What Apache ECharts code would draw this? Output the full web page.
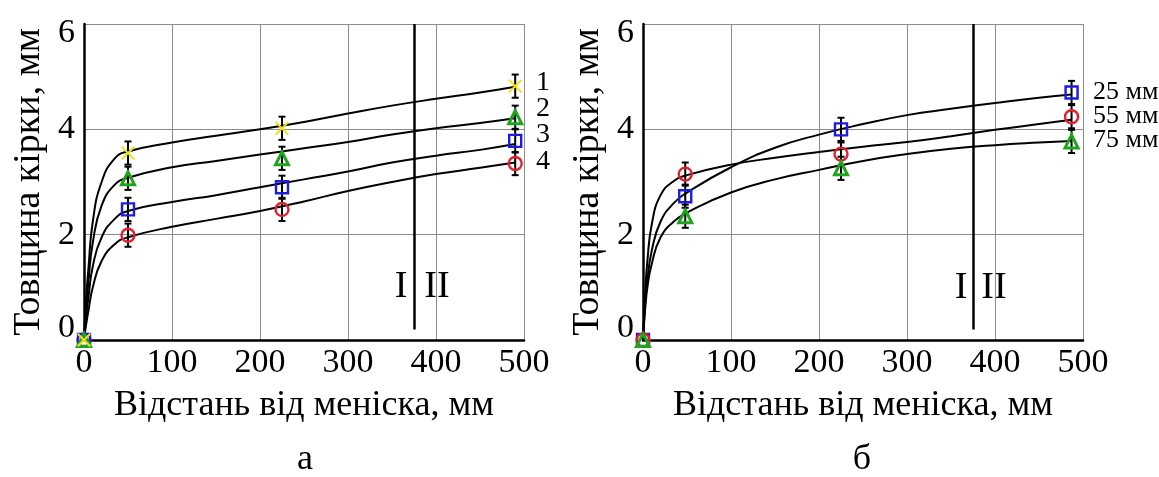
<!DOCTYPE html>
<html>
<head>
<meta charset="utf-8">
<script src="https://cdn.jsdelivr.net/npm/echarts@6/dist/echarts.min.js"></script>
<style>
  html, body { margin: 0; padding: 0; background: #fff; }
  #chart { width: 1159px; height: 477px; }
</style>
</head>
<body>
<div id="chart"></div>
<script>
// ticks
const xTicks = [0, 100, 200, 300, 400, 500];
const yTicks = [0, 2, 4, 6];

// panel а: measured points (x, thickness) for curves 1..4
const xMarkA = [0, 50, 225, 490];
const thick1 = [0, 3.55, 4.02, 4.82];
const thick2 = [0, 3.07, 3.45, 4.23];
const thick3 = [0, 2.48, 2.90, 3.78];
const thick4 = [0, 1.99, 2.48, 3.35];
// fitted curves
const xFitA = [0, 2.5, 5, 10, 20, 35, 50, 100, 150, 200, 250, 300, 350, 400, 450, 490];
const fit1 = [0, 0.8, 1.35, 2.25, 3.0, 3.45, 3.58, 3.75, 3.88, 4.0, 4.14, 4.3, 4.45, 4.58, 4.7, 4.81];
const fit2 = [0, 0.6, 1.1, 1.85, 2.55, 2.95, 3.08, 3.28, 3.4, 3.52, 3.64, 3.76, 3.9, 4.02, 4.12, 4.21];
const fit3 = [0, 0.45, 0.8, 1.4, 1.95, 2.3, 2.45, 2.62, 2.75, 2.9, 3.05, 3.2, 3.37, 3.5, 3.61, 3.72];
const fit4 = [0, 0.3, 0.55, 1.0, 1.5, 1.82, 1.95, 2.15, 2.3, 2.45, 2.63, 2.83, 3.0, 3.15, 3.27, 3.37];

// panel б: 25 / 55 / 75 мм
const xMarkB = [0, 48, 225, 487];
const thick25 = [0, 2.73, 4.0, 4.70];
const thick55 = [0, 3.15, 3.53, 4.24];
const thick75 = [0, 2.35, 3.26, 3.77];
const xFitB = [0, 2.5, 5, 10, 20, 35, 50, 100, 150, 200, 250, 300, 350, 400, 450, 487];
const fit25 = [0, 0.7, 1.15, 1.7, 2.25, 2.6, 2.8, 3.28, 3.65, 3.9, 4.1, 4.27, 4.39, 4.5, 4.6, 4.66];
const fit55 = [0, 0.9, 1.5, 2.2, 2.75, 3.02, 3.13, 3.33, 3.46, 3.57, 3.67, 3.76, 3.87, 3.99, 4.1, 4.18];
const fit75 = [0, 0.6, 1.0, 1.45, 1.95, 2.25, 2.42, 2.8, 3.05, 3.23, 3.4, 3.53, 3.63, 3.7, 3.75, 3.78];

const errHalf = 0.22;
const zoneX = 375;      // I | II boundary
const zoneBottom = 0.2;

const FONT = "'Liberation Serif', 'DejaVu Serif', serif";
const crossPath = 'path://M0,1L1,0L5,4L9,0L10,1L6,5L10,9L9,10L5,6L1,10L0,9L4,5Z';

const chart = echarts.init(document.getElementById('chart'));

function pairs(xs, ys) { return xs.map((x, i) => [x, ys[i]]); }

function xAxisFor(i) {
  return {
    gridIndex: i, type: 'value', min: xTicks[0], max: xTicks[xTicks.length - 1], interval: xTicks[1] - xTicks[0],
    axisLine: { show: true, onZero: false, lineStyle: { color: '#000', width: 2.5 } },
    axisTick: { show: false },
    splitLine: { show: true, lineStyle: { color: '#8c8c8c', width: 1 } },
    axisLabel: { color: '#000', fontSize: 34, fontFamily: FONT, margin: 6 },
    name: 'Відстань від меніска, мм', nameLocation: 'middle', nameGap: 48,
    nameTextStyle: { color: '#000', fontSize: 36, fontFamily: FONT }
  };
}

function yAxisFor(i) {
  const lab = { color: '#000', fontSize: 34, fontFamily: FONT };
  return {
    gridIndex: i, type: 'value', min: yTicks[0], max: yTicks[yTicks.length - 1], interval: yTicks[1] - yTicks[0],
    axisLine: { show: true, onZero: false, lineStyle: { color: '#000', width: 2.5 } },
    axisTick: { show: false },
    splitLine: { show: true, lineStyle: { color: '#8c8c8c', width: 1 } },
    axisLabel: {
      margin: 9,
      formatter: v => v === 6 ? '{t|6}' : v === 0 ? '{b|0}' : '{n|' + v + '}',
      rich: {
        t: Object.assign({ padding: [18, 0, 0, 0] }, lab),
        b: Object.assign({ padding: [0, 0, 24, 0] }, lab),
        n: lab
      }
    },
    name: 'Товщина кірки, мм', nameLocation: 'middle', nameGap: 36,
    nameTextStyle: { color: '#000', fontSize: 38, fontFamily: FONT }
  };
}

function curve(i, xs, ys, withZone) {
  const s = {
    type: 'line', xAxisIndex: i, yAxisIndex: i, data: pairs(xs, ys),
    showSymbol: false, smooth: 0.5, clip: false, silent: true,
    lineStyle: { color: '#000', width: 2 }, z: 3
  };
  if (withZone) {
    s.markLine = {
      symbol: 'none', silent: true, label: { show: false },
      lineStyle: { color: '#000', width: 2.5, type: 'solid' },
      data: [[{ coord: [zoneX, zoneBottom] }, { coord: [zoneX, yTicks[yTicks.length - 1]] }]]
    };
  }
  return s;
}

function errBars(i, xs, ys) {
  const data = [];
  xs.forEach((x, k) => { if (x > 0) data.push([x, ys[k] - errHalf, ys[k] + errHalf]); });
  return {
    type: 'custom', xAxisIndex: i, yAxisIndex: i, data: data, silent: true, z: 4,
    renderItem: (params, api) => {
      const top = api.coord([api.value(0), api.value(2)]);
      const bot = api.coord([api.value(0), api.value(1)]);
      const st = { stroke: '#000', lineWidth: 2 };
      const w = 3.5;
      return {
        type: 'group', children: [
          { type: 'line', shape: { x1: top[0], y1: top[1], x2: bot[0], y2: bot[1] }, style: st },
          { type: 'line', shape: { x1: top[0] - w, y1: top[1], x2: top[0] + w, y2: top[1] }, style: st },
          { type: 'line', shape: { x1: bot[0] - w, y1: bot[1], x2: bot[0] + w, y2: bot[1] }, style: st }
        ]
      };
    }
  };
}

function marks(i, xs, ys, symbol, color, size, filled, bw) {
  return {
    type: 'scatter', xAxisIndex: i, yAxisIndex: i, data: pairs(xs, ys), clip: false, silent: true,
    symbol: symbol, symbolSize: size, z: 5,
    itemStyle: filled
      ? { color: color, opacity: 1 }
      : { color: 'rgba(0,0,0,0)', borderColor: color, borderWidth: bw || 2.4, opacity: 1 }
  };
}

function txt(x, y, text, size, align) {
  return {
    type: 'text', x: x, y: y, silent: true,
    style: { text: text, fill: '#000', fontSize: size, fontFamily: FONT, align: align || 'center', verticalAlign: 'middle' }
  };
}

const YELLOW = '#f0e21a', GREEN = '#1ea51e', BLUE = '#1c1ce0', RED = '#e0202c';

chart.setOption({
  backgroundColor: '#fff',
  animation: false,
  grid: [
    { left: 84, top: 24, width: 440, height: 316 },
    { left: 643, top: 24, width: 440, height: 316 }
  ],
  xAxis: [xAxisFor(0), xAxisFor(1)],
  yAxis: [yAxisFor(0), yAxisFor(1)],
  series: [
    curve(0, xFitA, fit1, true), curve(0, xFitA, fit2), curve(0, xFitA, fit3), curve(0, xFitA, fit4),
    errBars(0, xMarkA, thick1), errBars(0, xMarkA, thick2), errBars(0, xMarkA, thick3), errBars(0, xMarkA, thick4),
    marks(0, xMarkA, thick4, 'circle', RED, 13),
    marks(0, xMarkA, thick3, 'rect', BLUE, 12),
    marks(0, xMarkA, thick2, 'triangle', GREEN, 13, false, 3),
    marks(0, xMarkA, thick1, crossPath, YELLOW, 14, true),

    curve(1, xFitB, fit25, true), curve(1, xFitB, fit55), curve(1, xFitB, fit75),
    errBars(1, xMarkB, thick25), errBars(1, xMarkB, thick55), errBars(1, xMarkB, thick75),
    marks(1, xMarkB, thick25, 'rect', BLUE, 12),
    marks(1, xMarkB, thick55, 'circle', RED, 13),
    marks(1, xMarkB, thick75, 'triangle', GREEN, 13, false, 3)
  ],
  graphic: [
    txt(543, 83, '1', 28), txt(543, 109, '2', 28), txt(543, 135, '3', 28), txt(543, 162, '4', 28),
    txt(1093, 92, '25 мм', 26, 'left'), txt(1093, 116, '55 мм', 26, 'left'), txt(1093, 140, '75 мм', 26, 'left'),
    txt(401, 287, 'I', 38), txt(437, 287, 'II', 38),
    txt(961, 288, 'I', 38), txt(994, 288, 'II', 38),
    txt(305, 460, 'а', 36), txt(862, 460, 'б', 36)
  ]
});
</script>
</body>
</html>
